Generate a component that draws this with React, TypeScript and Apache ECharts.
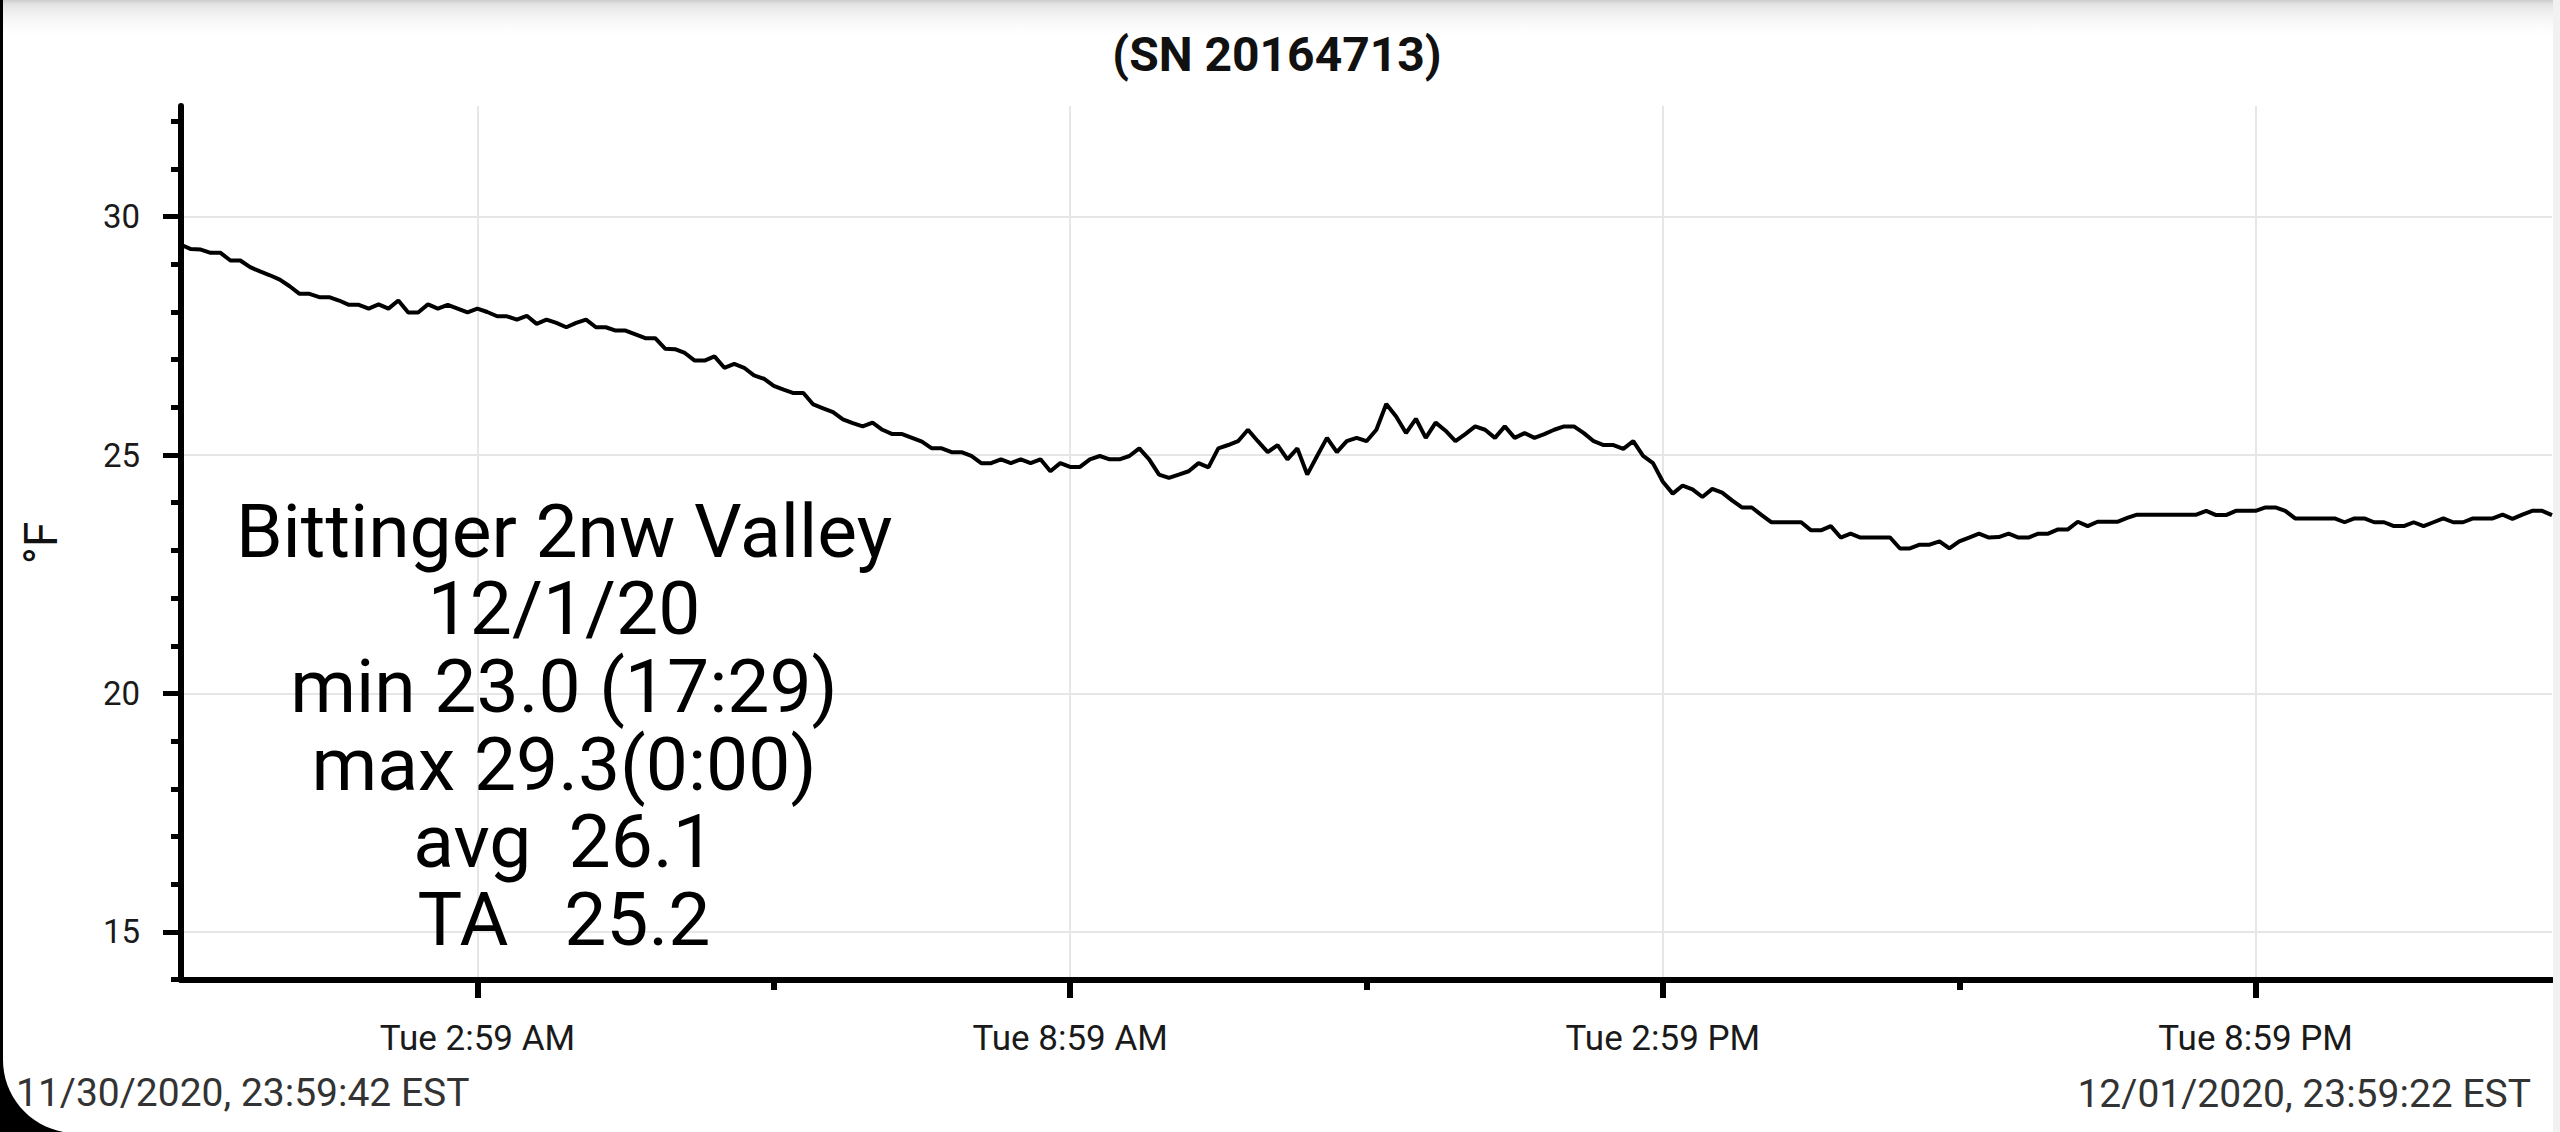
import React, { useEffect, useRef } from "react";
import * as echarts from "echarts";

const TITLE = "(SN 20164713)";
const Y_AXIS_NAME = "°F";
const SAMPLE_MINUTES = 6;
// temperatures (°F), one reading every 6 minutes from 11/30/2020 23:59:42 EST
const temperatures = [
  29.41, 29.32, 29.31, 29.24, 29.24, 29.08, 29.08, 28.94, 28.85, 28.77,
  28.68, 28.54, 28.38, 28.38, 28.31, 28.31, 28.24, 28.15, 28.15, 28.07,
  28.16, 28.07, 28.24, 27.99, 27.99, 28.16, 28.07, 28.15, 28.07, 27.99,
  28.07, 28.0, 27.91, 27.91, 27.84, 27.92, 27.75, 27.84, 27.77, 27.68,
  27.77, 27.84, 27.68, 27.68, 27.61, 27.61, 27.53, 27.45, 27.45, 27.23,
  27.22, 27.14, 26.98, 26.98, 27.07, 26.83, 26.91, 26.83, 26.67, 26.6,
  26.45, 26.37,
  26.3, 26.3, 26.06, 25.98, 25.9, 25.75, 25.67, 25.6, 25.68, 25.53,
  25.44, 25.44, 25.36, 25.28, 25.14, 25.14, 25.06, 25.06, 24.98, 24.83,
  24.83, 24.91, 24.83, 24.91, 24.83, 24.91, 24.66, 24.83, 24.75, 24.75,
  24.91, 24.98, 24.91, 24.91, 24.98, 25.14, 24.91, 24.59, 24.52, 24.59,
  24.66, 24.83, 24.74, 25.14, 25.21, 25.29, 25.53, 25.29, 25.06, 25.21,
  24.91, 25.14, 24.59, 24.98, 25.36, 25.06, 25.29, 25.36, 25.29, 25.53,
  26.07, 25.81,
  25.46, 25.76, 25.36, 25.68, 25.51, 25.29, 25.44, 25.6, 25.53, 25.36,
  25.6, 25.36, 25.46, 25.36, 25.44, 25.53, 25.6, 25.6, 25.46, 25.29,
  25.21, 25.21, 25.13, 25.29, 24.98, 24.83, 24.44, 24.19, 24.36, 24.28,
  24.12, 24.29, 24.21, 24.05, 23.9, 23.9, 23.74, 23.59, 23.59, 23.59,
  23.59, 23.42, 23.42, 23.51, 23.27, 23.35, 23.27, 23.27, 23.27, 23.27,
  23.04, 23.04, 23.12, 23.12, 23.19, 23.04, 23.19, 23.27, 23.35, 23.27,
  23.28, 23.35, 23.27, 23.27, 23.35, 23.35, 23.44, 23.44, 23.6, 23.51,
  23.6, 23.6, 23.6, 23.68, 23.75, 23.75, 23.75, 23.75, 23.75, 23.75,
  23.75, 23.83, 23.74, 23.74, 23.83, 23.83, 23.83, 23.9, 23.9, 23.83,
  23.67, 23.67, 23.67, 23.67, 23.67, 23.59, 23.67, 23.67, 23.59, 23.59,
  23.51, 23.51, 23.59, 23.51, 23.59, 23.67, 23.59, 23.59, 23.67, 23.67,
  23.67, 23.75, 23.66, 23.75, 23.83, 23.83, 23.74,
];

const X_MIN = 0;
const X_MAX = 1440;
const xMajorTicks = [180, 540, 900, 1260];
const xMajorLabels = ["Tue 2:59 AM", "Tue 8:59 AM", "Tue 2:59 PM", "Tue 8:59 PM"];
const xMinorTicks = [360, 720, 1080];

const Y_MIN = 13.99;
const Y_MAX = 32.32;
const yMajorTicks = [15, 20, 25, 30];
const yMinorTicks = [14, 16, 17, 18, 19, 21, 22, 23, 24, 26, 27, 28, 29, 31, 32];

const annotationLines = [
  "Bittinger 2nw Valley",
  "12/1/20",
  "min 23.0 (17:29)",
  "max 29.3(0:00)",
  "avg  26.1",
  "TA   25.2",
];
const startLabel = "11/30/2020, 23:59:42 EST";
const endLabel = "12/01/2020, 23:59:22 EST";

const W = 2560;
const H = 1132;
const FONT = "Roboto";

function cornerPoints(): number[][] {
  const pts: number[][] = [[0, 1060]];
  const cx = 76;
  const cy = 1060;
  const r = 73;
  for (let a = 180; a >= 100; a -= 5) {
    const rad = (a * Math.PI) / 180;
    pts.push([cx + r * Math.cos(rad), cy + r * Math.sin(rad)]);
  }
  pts.push([0, H]);
  return pts;
}

export default function App() {
  const ref = useRef<HTMLDivElement>(null);

  useEffect(() => {
    document.body.style.margin = "0";
    if (!ref.current) return;
    const chart = echarts.init(ref.current, null, { renderer: "svg" });

    const lineData = temperatures.map((v, i) => [i * SAMPLE_MINUTES, v]);

    const graphic: any[] = [
      {
        type: "rect",
        z: 50,
        shape: { x: 0, y: 0, width: W, height: 40 },
        style: {
          fill: {
            type: "linear",
            x: 0,
            y: 0,
            x2: 0,
            y2: 1,
            colorStops: [
              { offset: 0, color: "#cdcdcd" },
              { offset: 0.1, color: "#e3e3e3" },
              { offset: 1, color: "rgba(255,255,255,0)" },
            ],
          },
        },
        silent: true,
      },
      {
        type: "rect",
        z: 50,
        shape: { x: 2553, y: 0, width: 7, height: H },
        style: { fill: "#f1f1f1" },
        silent: true,
      },
      {
        type: "rect",
        z: 60,
        shape: { x: 0, y: 0, width: 3, height: H },
        style: { fill: "#000" },
        silent: true,
      },
      {
        type: "polygon",
        z: 60,
        shape: { points: cornerPoints() },
        style: { fill: "#000" },
        silent: true,
      },
      {
        type: "text",
        z: 70,
        x: 1277,
        y: 54,
        style: {
          text: TITLE,
          fill: "#111",
          fontFamily: FONT,
          fontWeight: "bold",
          fontSize: 48,
          textAlign: "center",
          textVerticalAlign: "middle",
        },
      },
      ...annotationLines.map((t, i) => ({
        type: "text",
        z: 70,
        x: 564,
        y: 530.5 + i * 77.7,
        style: {
          text: t,
          fill: "#000",
          fontFamily: FONT,
          fontSize: 75,
          lineHeight: 75,
          textAlign: "center",
          textVerticalAlign: "middle",
        },
      })),
      {
        type: "text",
        z: 70,
        x: 16,
        y: 1093,
        style: {
          text: startLabel,
          fill: "#333",
          fontFamily: FONT,
          fontSize: 39,
          textAlign: "left",
          textVerticalAlign: "middle",
        },
      },
      {
        type: "text",
        z: 70,
        x: 2531,
        y: 1094,
        style: {
          text: endLabel,
          fill: "#333",
          fontFamily: FONT,
          fontSize: 39,
          textAlign: "right",
          textVerticalAlign: "middle",
        },
      },
    ];

    const option: any = {
      animation: false,
      backgroundColor: "#ffffff",
      grid: { left: 181, right: 8, top: 106, bottom: 152, containLabel: false },
      xAxis: [
        {
          type: "value",
          min: X_MIN,
          max: X_MAX,
          position: "bottom",
          axisLine: { show: true, onZero: false, lineStyle: { color: "#000", width: 6 } },
          axisTick: {
            show: true,
            customValues: xMajorTicks,
            length: 18,
            lineStyle: { color: "#000", width: 6 },
          },
          axisLabel: {
            show: true,
            customValues: xMajorTicks,
            formatter: (v: number) => {
              const idx = xMajorTicks.indexOf(Math.round(v));
              return idx >= 0 ? xMajorLabels[idx] : "";
            },
            margin: 41,
            fontSize: 35,
            fontFamily: FONT,
            color: "#1a1a1a",
          },
          splitLine: { show: true, lineStyle: { color: "#e6e6e6", width: 2 } },
        },
        {
          type: "value",
          min: X_MIN,
          max: X_MAX,
          position: "bottom",
          axisLine: { show: false, onZero: false },
          axisTick: {
            show: true,
            customValues: xMinorTicks,
            length: 10,
            lineStyle: { color: "#000", width: 6 },
          },
          axisLabel: { show: false },
          splitLine: { show: false },
        },
      ],
      yAxis: [
        {
          type: "value",
          min: Y_MIN,
          max: Y_MAX,
          position: "left",
          name: Y_AXIS_NAME,
          nameLocation: "middle",
          nameRotate: 90,
          nameGap: 117,
          nameTextStyle: { fontSize: 46, fontFamily: FONT, color: "#111" },
          axisLine: { show: true, onZero: false, lineStyle: { color: "#000", width: 6 } },
          axisTick: {
            show: true,
            customValues: yMajorTicks,
            length: 18,
            lineStyle: { color: "#000", width: 5 },
          },
          axisLabel: {
            show: true,
            customValues: yMajorTicks,
            margin: 41,
            fontSize: 33,
            fontFamily: FONT,
            color: "#1a1a1a",
          },
          splitLine: { show: true, lineStyle: { color: "#e6e6e6", width: 2 } },
        },
        {
          type: "value",
          min: Y_MIN,
          max: Y_MAX,
          position: "left",
          axisLine: { show: false, onZero: false },
          axisTick: {
            show: true,
            customValues: yMinorTicks,
            length: 10,
            lineStyle: { color: "#000", width: 5 },
          },
          axisLabel: { show: false },
          splitLine: { show: false },
        },
      ],
      series: [
        {
          type: "line",
          xAxisIndex: 0,
          yAxisIndex: 0,
          data: lineData,
          showSymbol: false,
          symbol: "none",
          smooth: false,
          lineStyle: { color: "#000", width: 4 },
          z: 5,
        },
      ],
      graphic,
    };

    chart.setOption(option);
    return () => {
      chart.dispose();
    };
  }, []);

  return <div ref={ref} style={{ width: W + "px", height: H + "px" }} />;
}
